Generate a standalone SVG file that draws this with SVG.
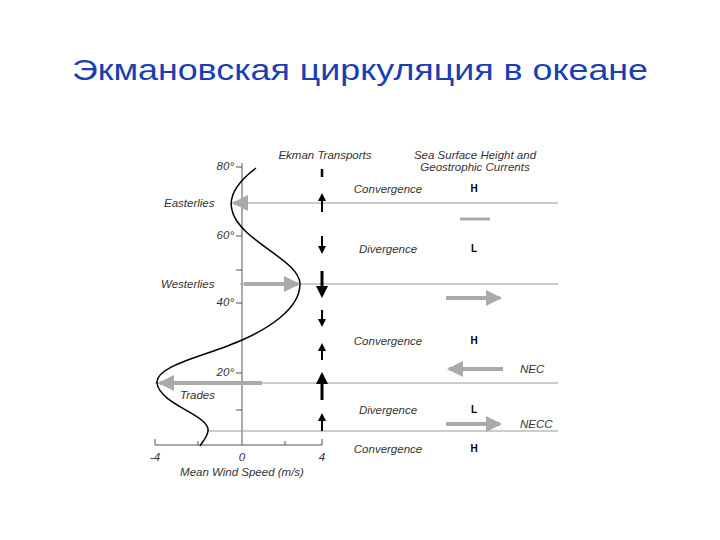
<svg xmlns="http://www.w3.org/2000/svg" width="720" height="540" viewBox="0 0 720 540">
<defs>
<marker id="ag" markerWidth="4" markerHeight="4" refX="3.5" refY="2" orient="auto" markerUnits="strokeWidth"><path d="M0,0L4,2L0,4z" fill="#aaa"/></marker>
<marker id="ab" markerWidth="4" markerHeight="4" refX="3" refY="2" orient="auto" markerUnits="strokeWidth"><path d="M0,0L4,2L0,4z" fill="#000"/></marker>
</defs>
<style>
.t{font-family:"Liberation Sans",Arial,sans-serif;font-style:italic;font-size:11.5px;fill:#333}
.hl{font-family:"Liberation Sans",Arial,sans-serif;font-weight:bold;font-size:10px;fill:#000}
.ln{stroke:#999;stroke-width:1}
.ax{stroke:#555;stroke-width:1;fill:none}
.g{stroke:#aaa;stroke-width:4;marker-end:url(#ag)}
.b{stroke:#000;stroke-width:2;marker-end:url(#ab)}
.B{stroke:#000;stroke-width:3;marker-end:url(#ab)}
</style>
<rect width="720" height="540" fill="#fff"/>
<text x="72" y="80" textLength="576" lengthAdjust="spacingAndGlyphs" font-family="Liberation Sans,Arial,sans-serif" font-size="30" fill="#1a3fb0">Экмановская циркуляция в океане</text>
<g id="axes">
<path class="ax" d="M242,163V445M155,445H322M155,439V445M198,441V445M285,441V445M322,439V445M236,167H242M236,236H242M236,270H242M236,303H242M236,373H242M236,410H242"/>
<text class="t" x="234" y="170" text-anchor="end">80°</text>
<text class="t" x="234" y="239" text-anchor="end">60°</text>
<text class="t" x="234" y="306" text-anchor="end">40°</text>
<text class="t" x="234" y="376" text-anchor="end">20°</text>
<text class="t" x="155" y="461" text-anchor="middle">-4</text>
<text class="t" x="242" y="461" text-anchor="middle">0</text>
<text class="t" x="322" y="461" text-anchor="middle">4</text>
<text class="t" x="242" y="476" text-anchor="middle">Mean Wind Speed (m/s)</text>
</g>
<g id="lines">
<path class="ln" d="M232,203H558M240,284H558M155,383H558M208,431H558"/>
</g>
<g id="curve"><path fill="none" stroke="#000" stroke-width="1.5" d="M256,168C240,180 228,195 232,210C238,240 300,260 300,284C300,310 265,330 242,340C210,355 155,365 157,383C160,405 210,415 208,431C207,438 202,442 200,446"/></g>
<g id="winds">
<line class="g" x1="246" y1="203" x2="234" y2="203"/>
<line class="g" x1="244" y1="284" x2="298" y2="284"/>
<line class="g" x1="262" y1="383" x2="160" y2="383"/>
<text class="t" x="164" y="207">Easterlies</text>
<text class="t" x="161" y="288">Westerlies</text>
<text class="t" x="180" y="399">Trades</text>
</g>
<g id="ekman">
<text class="t" x="325" y="159" text-anchor="middle">Ekman Transports</text>
<line x1="322" y1="169" x2="322" y2="177" stroke="#000" stroke-width="2.5"/>
<line class="b" x1="322" y1="212" x2="322" y2="195"/>
<line class="b" x1="322" y1="236" x2="322" y2="252"/>
<line class="B" x1="322" y1="271" x2="322" y2="295"/>
<line class="b" x1="322" y1="310" x2="322" y2="325"/>
<line class="b" x1="322" y1="360" x2="322" y2="345"/>
<line class="B" x1="322" y1="400" x2="322" y2="375"/>
<line class="b" x1="322" y1="431" x2="322" y2="415"/>
</g>
<g id="zones">
<text class="t" x="388" y="193" text-anchor="middle">Convergence</text>
<text class="t" x="388" y="253" text-anchor="middle">Divergence</text>
<text class="t" x="388" y="345" text-anchor="middle">Convergence</text>
<text class="t" x="388" y="414" text-anchor="middle">Divergence</text>
<text class="t" x="388" y="453" text-anchor="middle">Convergence</text>
</g>
<g id="ssh">
<text class="t" x="475" y="159" text-anchor="middle">Sea Surface Height and</text>
<text class="t" x="475" y="171" text-anchor="middle">Geostrophic Currents</text>
<text class="hl" x="474" y="192" text-anchor="middle">H</text>
<text class="hl" x="474" y="252" text-anchor="middle">L</text>
<text class="hl" x="474" y="344" text-anchor="middle">H</text>
<text class="hl" x="474" y="413" text-anchor="middle">L</text>
<text class="hl" x="474" y="452" text-anchor="middle">H</text>
<line x1="460" y1="219" x2="490" y2="219" stroke="#aaa" stroke-width="3"/>
<line class="g" x1="446" y1="298" x2="500" y2="298"/>
<line class="g" x1="503" y1="369" x2="449" y2="369"/>
<line class="g" x1="446" y1="424" x2="500" y2="424"/>
<text class="t" x="520" y="373">NEC</text>
<text class="t" x="520" y="428">NECC</text>
</g>
</svg>
